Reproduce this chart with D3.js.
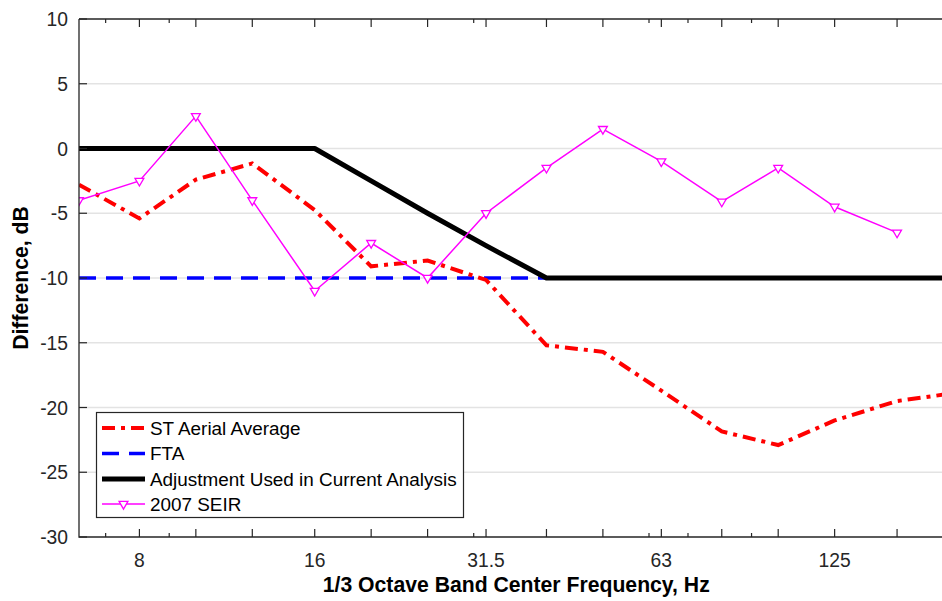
<!DOCTYPE html>
<html lang="en">
<head>
  <meta charset="utf-8" />
  <title>Difference by 1/3 octave band</title>
  <script src="https://d3js.org/d3.v7.min.js"></script>
  <style>
    body { margin: 0; background: #fff; }
    text { font-family: "Liberation Sans", Arial, sans-serif; fill: #262626; }
  </style>
</head>
<body>
  <div id="graph"></div>
  <script>
    // band centres (Hz) and the four series
    const bands = [6.3, 8, 10, 12.5, 16, 20, 25, 31.5, 40, 50, 63, 80, 100, 125, 160, 200];
    const stAerial = [-2.8, -5.4, -2.4, -1.15, -4.75, -9.1, -8.65, -10.15, -15.2, -15.7, -18.7, -21.85, -22.9, -21.0, -19.5, -18.9];
    const ftaBands = [6.3, 8, 10, 12.5, 16, 20, 25, 31.5, 40];
    const fta = [-10, -10, -10, -10, -10, -10, -10, -10, -10];
    const adjustment = [0, 0, 0, 0, 0, -2.5, -5, -7.5, -10, -10, -10, -10, -10, -10, -10, -10];
    const seirBands = [6.3, 8, 10, 12.5, 16, 20, 25, 31.5, 40, 50, 63, 80, 100, 125, 160];
    const seir = [-4, -2.5, 2.5, -4, -11, -7.3, -10, -5, -1.5, 1.5, -1, -4.1, -1.5, -4.5, -6.5];

    // ticks
    const majorTicks = [8, 10, 12.5, 16, 20, 25, 31.5, 40, 50, 63, 80, 100, 125, 160];
    const minorTicks = [7, 9, 30, 60, 70, 90];
    const labelledTicks = [8, 16, 31.5, 63, 125];
    const yTicks = [-30, -25, -20, -15, -10, -5, 0, 5, 10];

    const legendNames = ["ST Aerial Average", "FTA", "Adjustment Used in Current Analysis", "2007 SEIR"];

    const W = 942, H = 601;
    const mLeft = 79, mTop = 19, mBottom = 537, mRight = 953.5;

    const x = d3.scaleLog().domain([6.3, 200]).range([mLeft, mRight]);
    const y = d3.scaleLinear().domain([-30, 10]).range([mBottom, mTop]);

    const svg = d3.select("#graph").append("svg")
      .attr("width", W).attr("height", H);

    svg.append("defs").append("clipPath").attr("id", "plotclip")
      .append("rect").attr("x", mLeft).attr("y", mTop)
      .attr("width", mRight - mLeft).attr("height", mBottom - mTop);

    // horizontal grid
    svg.append("g").selectAll("line").data(yTicks.slice(1, -1)).join("line")
      .attr("x1", mLeft).attr("x2", mRight)
      .attr("y1", d => y(d)).attr("y2", d => y(d))
      .attr("stroke", "#e3e3e3").attr("stroke-width", 1.5);

    const plot = svg.append("g").attr("clip-path", "url(#plotclip)");

    const line = (xs, ys) => d3.line().x((d, i) => x(xs[i])).y(d => y(d))(ys);

    plot.append("path").attr("d", line(ftaBands, fta))
      .attr("fill", "none").attr("stroke", "#0000ff").attr("stroke-width", 3.5)
      .attr("stroke-dasharray", "17,10");

    plot.append("path").attr("d", line(bands, stAerial))
      .attr("fill", "none").attr("stroke", "#ff0000").attr("stroke-width", 4)
      .attr("stroke-dasharray", "13,6,4,6");

    plot.append("path").attr("d", line(bands, adjustment))
      .attr("fill", "none").attr("stroke", "#000").attr("stroke-width", 5)
      .attr("stroke-linejoin", "round");

    plot.append("path").attr("d", line(seirBands, seir))
      .attr("fill", "none").attr("stroke", "#ff00ff").attr("stroke-width", 1.5);

    const tri = d3.symbol().type(d3.symbolTriangle).size(34);
    plot.append("g").selectAll("path").data(seir).join("path")
      .attr("d", tri)
      .attr("transform", (d, i) => `translate(${x(seirBands[i])},${y(d)}) rotate(180)`)
      .attr("fill", "#fff").attr("stroke", "#ff00ff").attr("stroke-width", 1.3);

    // axes box
    const axisColor = "#262626";
    svg.append("path")
      .attr("d", `M${mLeft},${mTop}H${W + 20}M${mLeft},${mTop}V${mBottom}H${W + 20}`)
      .attr("fill", "none").attr("stroke", axisColor).attr("stroke-width", 1.3);

    // ticks (inward, top and bottom)
    const xt = svg.append("g").attr("stroke", axisColor).attr("stroke-width", 1.2);
    majorTicks.forEach(t => {
      xt.append("line").attr("x1", x(t)).attr("x2", x(t)).attr("y1", mBottom).attr("y2", mBottom - 8);
      xt.append("line").attr("x1", x(t)).attr("x2", x(t)).attr("y1", mTop).attr("y2", mTop + 8);
    });
    minorTicks.forEach(t => {
      xt.append("line").attr("x1", x(t)).attr("x2", x(t)).attr("y1", mBottom).attr("y2", mBottom - 4);
      xt.append("line").attr("x1", x(t)).attr("x2", x(t)).attr("y1", mTop).attr("y2", mTop + 4);
    });
    yTicks.forEach(t => {
      xt.append("line").attr("x1", mLeft).attr("x2", mLeft + 8).attr("y1", y(t)).attr("y2", y(t));
    });

    svg.append("g").selectAll("text").data(labelledTicks).join("text")
      .attr("x", d => x(d)).attr("y", 567)
      .attr("text-anchor", "middle").attr("font-size", 19.3)
      .text(d => d);

    svg.append("g").selectAll("text").data(yTicks).join("text")
      .attr("x", 68).attr("y", d => y(d) + 7)
      .attr("text-anchor", "end").attr("font-size", 19.3)
      .text(d => d);

    svg.append("text")
      .attr("x", (mLeft + mRight) / 2).attr("y", 592)
      .attr("text-anchor", "middle").attr("font-size", 21.2).attr("font-weight", "bold")
      .style("fill", "#000")
      .text("1/3 Octave Band Center Frequency, Hz");

    svg.append("text")
      .attr("transform", `translate(28,${(mTop + mBottom) / 2}) rotate(-90)`)
      .attr("text-anchor", "middle").attr("font-size", 21.2).attr("font-weight", "bold")
      .style("fill", "#000")
      .text("Difference, dB");

    // legend
    const lg = svg.append("g");
    lg.append("rect").attr("x", 96.5).attr("y", 412.5).attr("width", 367).attr("height", 105)
      .attr("fill", "#fff").attr("stroke", axisColor).attr("stroke-width", 1.2);
    const rowY = [428, 453.5, 479, 504];
    const styles = [
      { c: "#ff0000", w: 4, dash: "13,6,4,6" },
      { c: "#0000ff", w: 3.5, dash: "17,10" },
      { c: "#000", w: 5, dash: null },
      { c: "#ff00ff", w: 1.5, dash: null }
    ];
    legendNames.forEach((name, i) => {
      const s = styles[i];
      lg.append("line").attr("x1", 102).attr("x2", 145).attr("y1", rowY[i]).attr("y2", rowY[i])
        .attr("stroke", s.c).attr("stroke-width", s.w)
        .attr("stroke-dasharray", s.dash);
      lg.append("text").attr("x", 150).attr("y", rowY[i] + 6.5)
        .attr("font-size", 18.9).style("fill", "#000").text(name);
    });
    lg.append("path").attr("d", tri)
      .attr("transform", `translate(123.5,${rowY[3]}) rotate(180)`)
      .attr("fill", "#fff").attr("stroke", "#ff00ff").attr("stroke-width", 1.3);
  </script>
</body>
</html>
